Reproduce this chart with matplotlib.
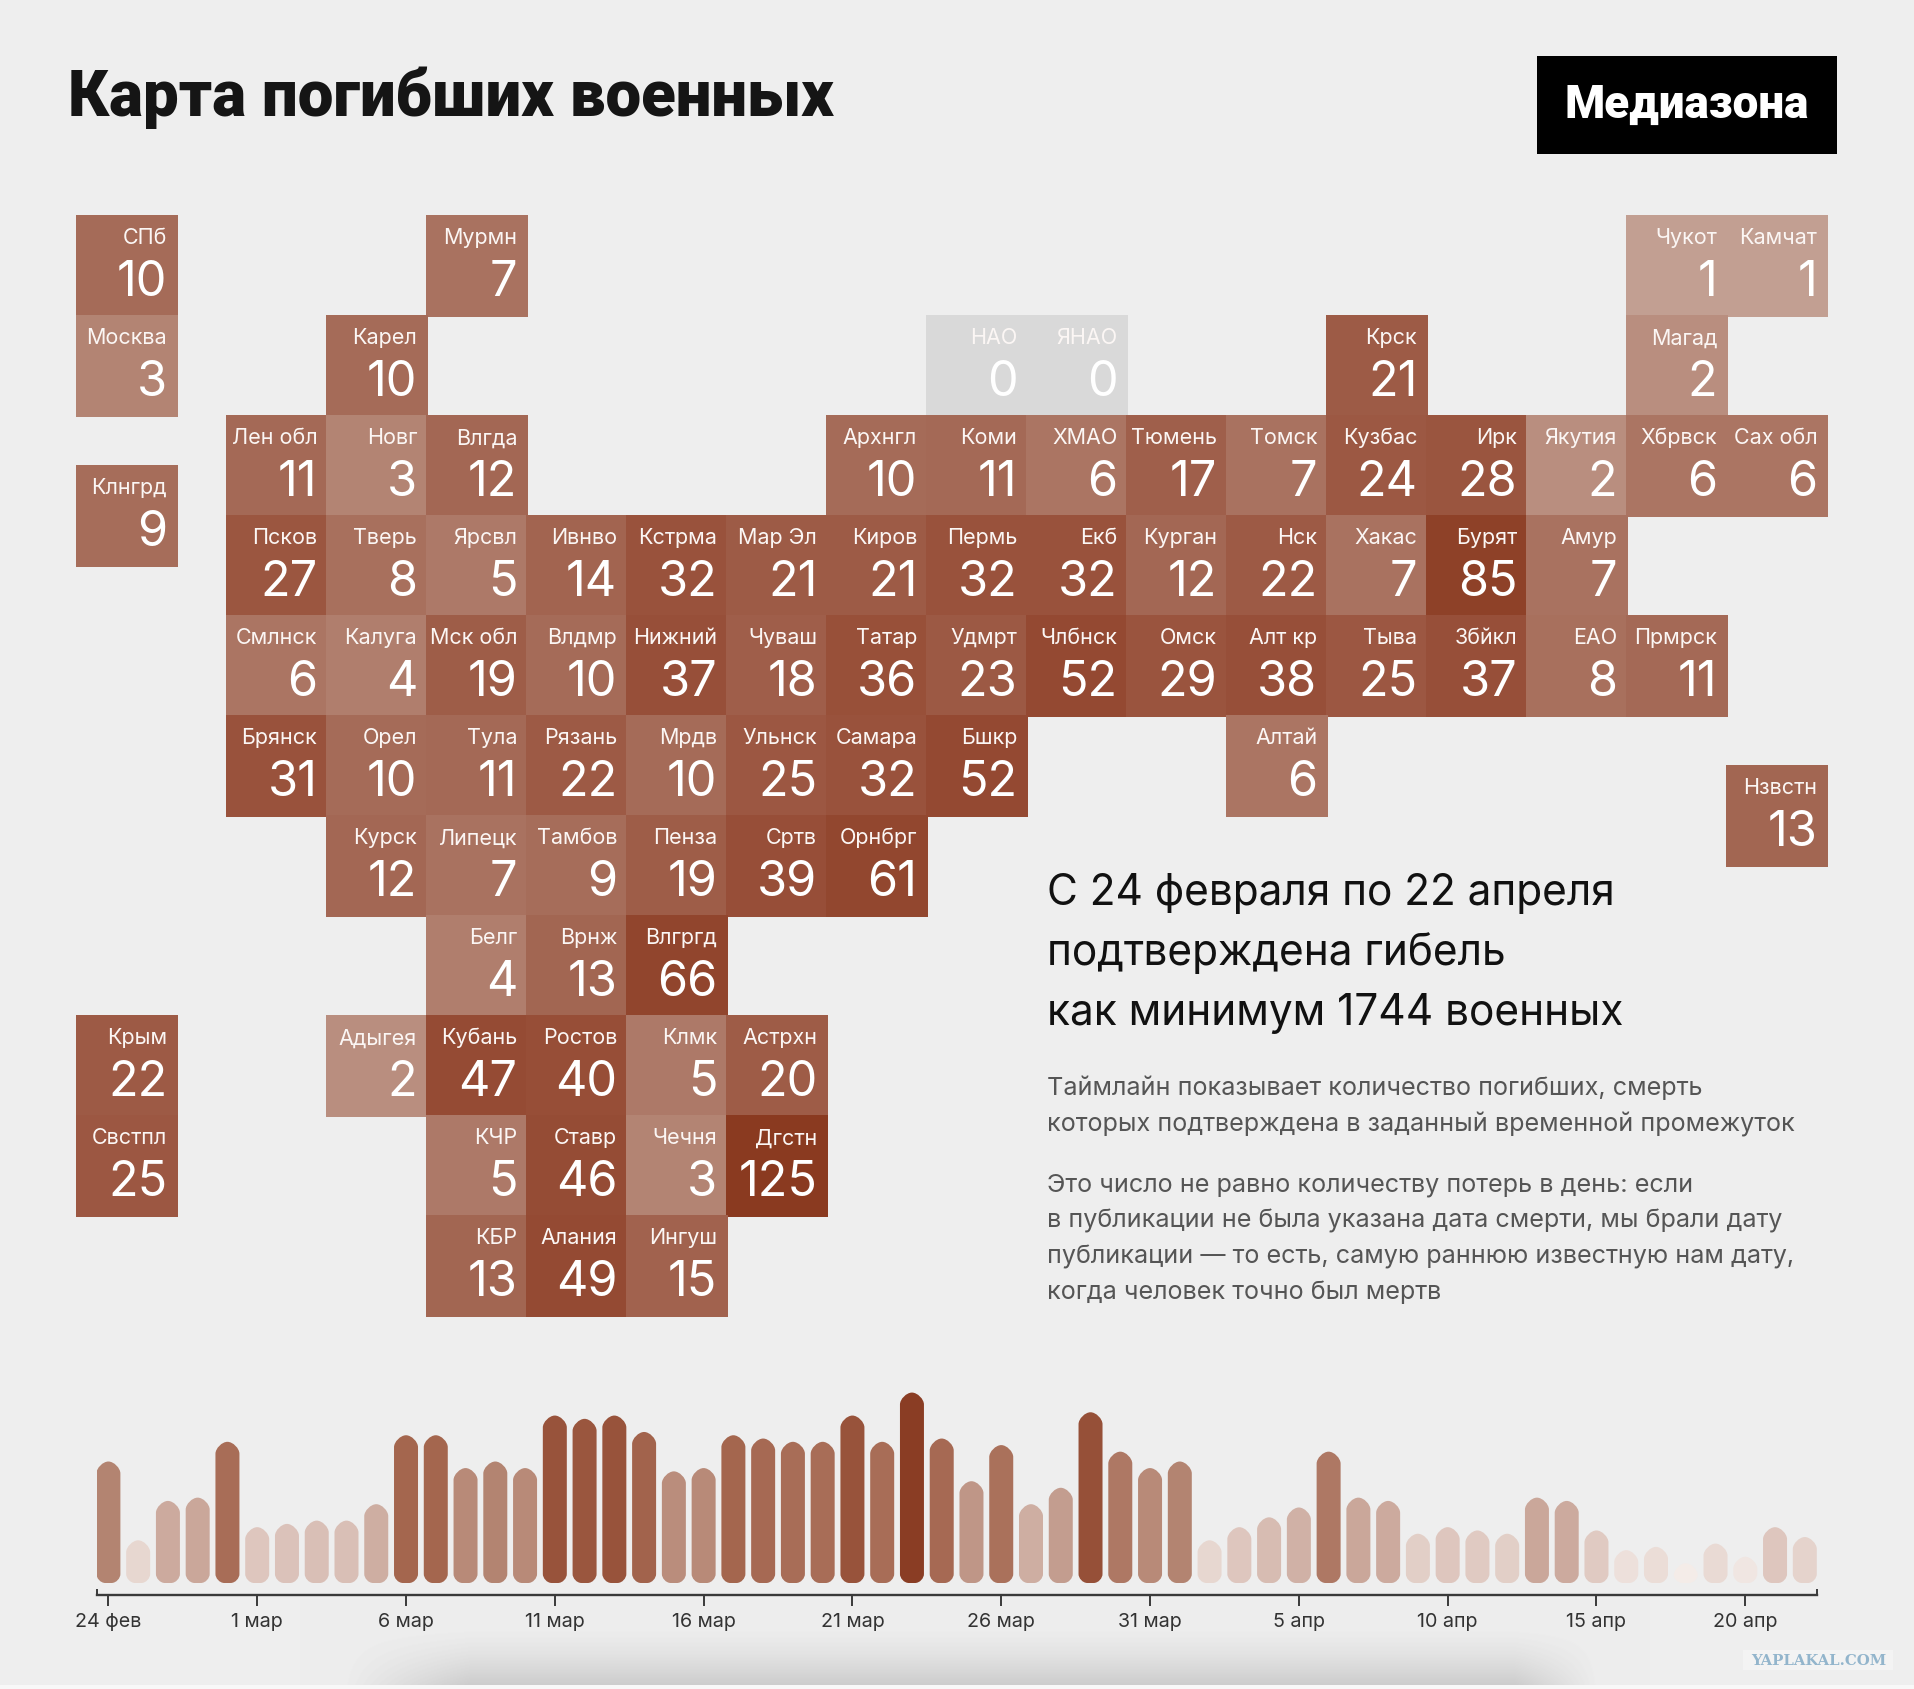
import numpy as np
import matplotlib
matplotlib.use('Agg')
import matplotlib.pyplot as plt
from matplotlib.colors import LinearSegmentedColormap, LogNorm, Normalize
from matplotlib.patches import PathPatch, Rectangle
from matplotlib.path import Path

plt.rcParams['font.family'] = ['Inter', 'DejaVu Sans']

BG = '#eeeeee'

# tile map: region short name, deaths, grid column and grid row
names = ['СПб', 'Мурмн', 'Чукот', 'Камчат',
         'Москва', 'Карел', 'НАО', 'ЯНАО', 'Крск', 'Магад',
         'Лен обл', 'Новг', 'Влгда', 'Архнгл', 'Коми', 'ХМАО', 'Тюмень', 'Томск',
         'Кузбас', 'Ирк', 'Якутия', 'Хбрвск', 'Сах обл',
         'Клнгрд',
         'Псков', 'Тверь', 'Ярсвл', 'Ивнво', 'Кстрма', 'Мар Эл', 'Киров', 'Пермь',
         'Екб', 'Курган', 'Нск', 'Хакас', 'Бурят', 'Амур',
         'Смлнск', 'Калуга', 'Мск обл', 'Влдмр', 'Нижний', 'Чуваш', 'Татар', 'Удмрт',
         'Члбнск', 'Омск', 'Алт кр', 'Тыва', 'Збйкл', 'ЕАО', 'Прмрск',
         'Брянск', 'Орел', 'Тула', 'Рязань', 'Мрдв', 'Ульнск', 'Самара', 'Бшкр', 'Алтай',
         'Нзвстн',
         'Курск', 'Липецк', 'Тамбов', 'Пенза', 'Сртв', 'Орнбрг',
         'Белг', 'Врнж', 'Влгргд',
         'Крым', 'Адыгея', 'Кубань', 'Ростов', 'Клмк', 'Астрхн',
         'Свстпл', 'КЧР', 'Ставр', 'Чечня', 'Дгстн',
         'КБР', 'Алания', 'Ингуш']
deaths = [10, 7, 1, 1,
          3, 10, 0, 0, 21, 2,
          11, 3, 12, 10, 11, 6, 17, 7, 24, 28, 2, 6, 6,
          9,
          27, 8, 5, 14, 32, 21, 21, 32, 32, 12, 22, 7, 85, 7,
          6, 4, 19, 10, 37, 18, 36, 23, 52, 29, 38, 25, 37, 8, 11,
          31, 10, 11, 22, 10, 25, 32, 52, 6,
          13,
          12, 7, 9, 19, 39, 61,
          4, 13, 66,
          22, 2, 47, 40, 5, 20,
          25, 5, 46, 3, 125,
          13, 49, 15]
cols = [0, 3.5, 15.5, 16.5,
        0, 2.5, 8.5, 9.5, 12.5, 15.5,
        1.5, 2.5, 3.5, 7.5, 8.5, 9.5, 10.5, 11.5, 12.5, 13.5, 14.5, 15.5, 16.5,
        0,
        1.5, 2.5, 3.5, 4.5, 5.5, 6.5, 7.5, 8.5, 9.5, 10.5, 11.5, 12.5, 13.5, 14.5,
        1.5, 2.5, 3.5, 4.5, 5.5, 6.5, 7.5, 8.5, 9.5, 10.5, 11.5, 12.5, 13.5, 14.5, 15.5,
        1.5, 2.5, 3.5, 4.5, 5.5, 6.5, 7.5, 8.5, 11.5,
        16.5,
        2.5, 3.5, 4.5, 5.5, 6.5, 7.5,
        3.5, 4.5, 5.5,
        0, 2.5, 3.5, 4.5, 5.5, 6.5,
        0, 3.5, 4.5, 5.5, 6.5,
        3.5, 4.5, 5.5]
rows = [0] * 4 + [1] * 6 + [2] * 13 + [2.5] + [3] * 14 + [4] * 15 + [5] * 9 + [5.5] \
    + [6] * 6 + [7] * 3 + [8] * 6 + [9] * 5 + [10] * 3

# deaths per day, 24 feb .. 22 apr
daily = [37, 13, 25, 26, 43,
         17, 18, 19, 19, 24, 45, 45, 35, 37, 35, 51, 50, 51, 46, 34, 35, 45, 44, 43, 43,
         51, 43, 58, 44, 31, 42, 24, 29, 52, 40, 35, 37,
         13, 17, 20, 23, 40, 26, 25, 15, 17, 16, 15, 26, 25, 16, 10, 11, 6, 12, 8, 17, 14]
tick_days = [0, 5, 10, 15, 20, 25, 30, 35, 40, 45, 50, 55]
tick_labels = ['24 фев', '1 мар', '6 мар', '11 мар', '16 мар', '21 мар', '26 мар',
               '31 мар', '5 апр', '10 апр', '15 апр', '20 апр']

headline = ['С 24 февраля по 22 апреля', 'подтверждена гибель', 'как минимум 1744 военных']
body = ['Таймлайн показывает количество погибших, смерть',
        'которых подтверждена в заданный временной промежуток',
        'Это число не равно количеству потерь в день: если',
        'в публикации не была указана дата смерти, мы брали дату',
        'публикации — то есть, самую раннюю известную нам дату,',
        'когда человек точно был мертв']

tile_cmap = LinearSegmentedColormap.from_list(
    'tiles', [(0, '#c29f92'), (0.227, '#b38473'), (0.477, '#a56b58'), (0.718, '#99523c'), (1, '#8a3a20')])
tile_norm = LogNorm(1, 125)
bar_cmap = LinearSegmentedColormap.from_list(
    'bars', [(0, '#f4ece8'), (0.14, '#e6d6cf'), (0.21, '#dec6be'), (0.37, '#cba99d'),
             (0.60, '#b38370'), (0.75, '#a4664f'), (1, '#8a3d24')])
bar_norm = Normalize(6, 58)


def px_axes(fig, left, top, right, bottom):
    W, H = fig.get_size_inches() * fig.dpi
    return fig.add_axes([left / W, 1 - bottom / H, (right - left) / W, (bottom - top) / H])


def rounded_bar(ax, x, h, half_w, r_top, r_foot, aspect, color):
    """Bar with different corner radii on top and at the foot, radii in x units."""
    ry_top = min(r_top * aspect, h * 0.6)
    ry_foot = min(r_foot * aspect, h * 0.4)
    l, r = x - half_w, x + half_w
    k = 0.45
    verts = [(l + r_foot, 0),
             (r - r_foot, 0),
             (r - r_foot * k, 0), (r, ry_foot * (1 - k)), (r, ry_foot),
             (r, h - ry_top),
             (r, h - ry_top * (1 - k)), (r - r_top * (1 - k), h), (r - r_top, h),
             (l + r_top, h),
             (l + r_top * (1 - k), h), (l, h - ry_top * (1 - k)), (l, h - ry_top),
             (l, ry_foot),
             (l, ry_foot * (1 - k)), (l + r_foot * k, 0), (l + r_foot, 0),
             (l + r_foot, 0)]
    codes = [Path.MOVETO, Path.LINETO,
             Path.CURVE4, Path.CURVE4, Path.CURVE4,
             Path.LINETO,
             Path.CURVE4, Path.CURVE4, Path.CURVE4,
             Path.LINETO,
             Path.CURVE4, Path.CURVE4, Path.CURVE4,
             Path.LINETO,
             Path.CURVE4, Path.CURVE4, Path.CURVE4,
             Path.CLOSEPOLY]
    ax.add_patch(PathPatch(Path(verts, codes), facecolor=color, edgecolor='none'))


fig = plt.figure(figsize=(19.14, 16.9), dpi=100, facecolor=BG)

# page layer, in pixels
page = fig.add_axes([0, 0, 1, 1])
page.set_xlim(0, 1914)
page.set_ylim(1690, 0)
page.axis('off')

# soft shadow at the bottom of the screenshot
xx, yy = np.meshgrid(np.arange(300, 1650), np.arange(1600, 1686))
fade_x = np.clip((xx - 340) / 130, 0, 1) * np.clip((1600 - xx) / 85, 0, 1)
fade_y = np.clip((yy - 1622) / 64, 0, 1) ** 1.6
shade = 238 - 34 * fade_x * fade_y
page.imshow(shade, cmap='gray', vmin=0, vmax=255, extent=(300, 1650, 1686, 1600), aspect='auto')
page.set_xlim(0, 1914)
page.set_ylim(1690, 0)
page.add_patch(Rectangle((0, 1686), 1914, 4, color='#f8f8f8', lw=0))

page.text(68, 116, 'Карта погибших военных', fontsize=45.8, fontweight='black', family='Roboto',
          color='#151515', va='baseline')
page.add_patch(Rectangle((1537, 56.5), 300, 98, color='black', lw=0))
page.text(1687, 118, 'Медиазона', fontsize=33, fontweight='black', family='Roboto',
          color='white', ha='center', va='baseline')

for line, y in zip(headline, [905, 965, 1025]):
    page.text(1047, y, line, fontsize=30.5, color='#111111', va='baseline')
for line, y in zip(body, [1095.5, 1132, 1191.5, 1228, 1264, 1299.5]):
    page.text(1047, y, line, fontsize=18.12, color='#555555', va='baseline')

page.add_patch(Rectangle((1743, 1651), 150, 20, color='#f3f3f3', lw=0))
page.text(1819, 1665, 'YAPLAKAL.COM', fontsize=10.7, fontweight='bold', family='DejaVu Serif',
          color='#93b5cc', ha='center', va='baseline')

# tile map
ax = px_axes(fig, 76, 215.5, 1826, 1315.5)
ax.set_xlim(0, 17.5)
ax.set_ylim(11, 0)
ax.axis('off')
ax.patch.set_alpha(0)
for name, val, c, r in zip(names, deaths, cols, rows):
    color = tile_cmap(tile_norm(val)) if val > 0 else '#d9d9d9'
    ax.add_patch(Rectangle((c, r), 1.02, 1.02, facecolor=color, edgecolor='none', clip_on=False))
    ax.text(c + 0.912, r + 0.29, name, fontsize=15.5, color='#fbf6f4', ha='right', va='baseline')
    ax.text(c + 0.913, r + 0.81, str(val), fontsize=35, color='white', ha='right', va='baseline')

# timeline
tl = px_axes(fig, 97, 1387, 1817, 1584)
tl.set_xlim(-0.383, 57.41)
tl.set_ylim(0, 60)
tl.patch.set_alpha(0)
aspect = 29.76 / 3.283
for i, v in enumerate(daily):
    rounded_bar(tl, i, v, 0.403, 0.40, 0.30, aspect, bar_cmap(bar_norm(v)))

for s in ['top', 'left', 'right']:
    tl.spines[s].set_visible(False)
tl.spines['bottom'].set_position(('outward', 8.4))
tl.spines['bottom'].set_color('#3a3a3a')
tl.spines['bottom'].set_linewidth(1.7)
tl.set_yticks([])
tl.set_xticks(tick_days)
tl.set_xticklabels(tick_labels)
tl.tick_params(axis='x', length=8, width=1.4, color='#3a3a3a', labelsize=14.2, labelcolor='#333333', pad=4.5)
tl.set_xticks([-0.383, 57.41], minor=True)
tl.tick_params(axis='x', which='minor', direction='in', length=4.5, width=1.4, color='#3a3a3a')

fig.savefig('out.png', dpi=100, facecolor=BG)
